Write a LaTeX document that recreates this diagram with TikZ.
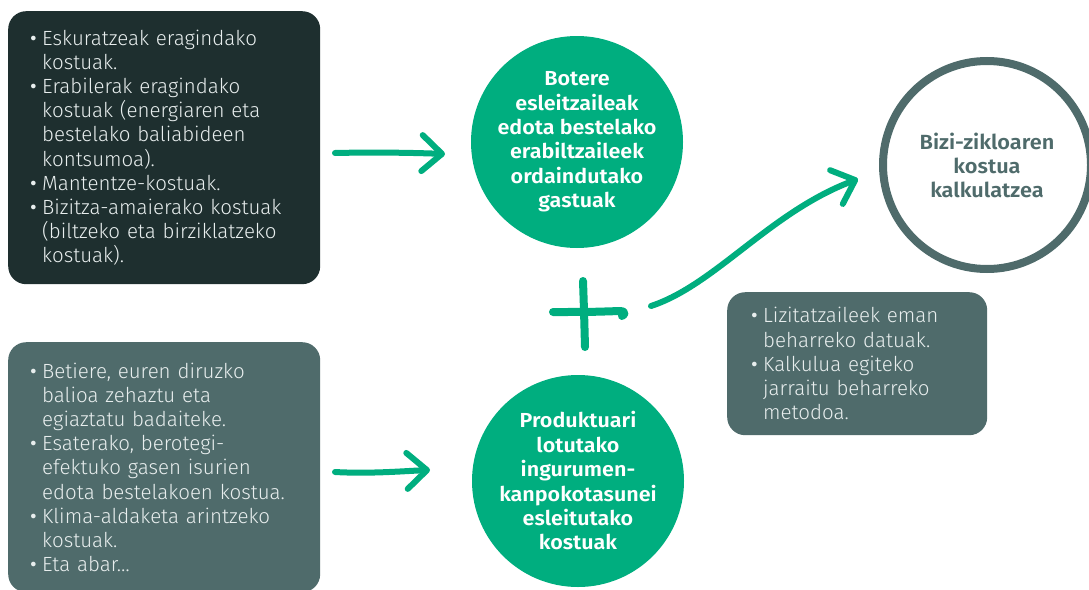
\documentclass[tikz,border=0pt]{standalone}
\usepackage{fontspec}
\setmainfont{Fira Sans Light}
\newfontfamily\boldf{Fira Sans SemiBold}[FakeStretch=1.06]
\newfontfamily\bulf{Fira Sans}
\usetikzlibrary{arrows.meta}
\definecolor{grn}{HTML}{00AE7F}
\definecolor{dk}{HTML}{1E2F2F}
\definecolor{gr}{HTML}{4F6B6B}
\definecolor{lt}{HTML}{E8EEEE}
\newcommand\bul{\makebox[12pt][l]{{\bulf\textbullet}}}
\newcommand\hind{\hspace*{12pt}}
\begin{document}
\begin{tikzpicture}[x=1pt,y=-1pt,
  box/.style={rounded corners=18pt, anchor=north west, text=lt, align=left,
    font=\fontsize{20.5}{24.2}\selectfont, inner xsep=22pt, inner ysep=0pt},
  disc/.style={circle, fill=grn, minimum size=212pt, text=white, align=center,
    font=\boldf\fontsize{20.3}{24.4}\selectfont, inner sep=0pt},
  pen/.style={draw=grn, line width=6pt, line cap=round, line join=round},
  conn/.style={pen, -{Straight Barb[length=20pt,width=36pt,round]}}]
\useasboundingbox (0,0) rectangle (1089,589);

\node[box, fill=dk, minimum width=312pt, minimum height=273pt, text width=268pt] (b1) at (8,11) {%
\bul Eskuratzeak eragindako\\
\hind kostuak.\\
\bul Erabilerak eragindako\\
\hind kostuak (energiaren eta\\
\hind bestelako baliabideen\\
\hind kontsumoa).\\
\bul Mantentze-kostuak.\\
\bul Bizitza-amaierako kostuak\\
\hind (biltzeko eta birziklatzeko\\
\hind kostuak).};

\node[box, fill=gr, minimum width=312pt, minimum height=250pt, text width=268pt] (b2) at (8,342) {%
\bul Betiere, euren diruzko\\
\hind balioa zehaztu eta\\
\hind egiaztatu badaiteke.\\
\bul Esaterako, berotegi-\\
\hind efektuko gasen isurien\\
\hind edota bestelakoen kostua.\\
\bul Klima-aldaketa arintzeko\\
\hind kostuak.\\
\bul Eta abar\dots};

\node[box, fill=gr, minimum width=260pt, minimum height=143pt, text width=212pt, inner xsep=24pt] (b3) at (727,292) {%
\bul Lizitatzaileek eman\\
\hind beharreko datuak.\\
\bul Kalkulua egiteko\\
\hind jarraitu beharreko\\
\hind metodoa.};

\node[disc] (c1) at (577,142) {Botere\\esleitzaileak\\edota bestelako\\erabiltzaileek\\ordaindutako\\gastuak};
\node[disc] (c2) at (578,481) {Produktuari\\lotutako\\ingurumen-\\kanpokotasunei\\esleitutako\\kostuak};
\node[circle, draw=gr, line width=8pt, minimum size=208pt, text=gr, align=center,
  font=\boldf\fontsize{20.5}{24}\selectfont] (c3) at (987,165) {Bizi-zikloaren\\kostua\\kalkulatzea};

% arrows
\coordinate (a1s) at (335,153);
\coordinate (a1e) at (445,154);
\draw[conn] (a1s) .. controls (380,152) and (420,153) .. (a1e);
\coordinate (a2s) at (335,472);
\coordinate (a2e) at (430,470);
\draw[conn] (a2s) .. controls (370,474) and (405,471) .. (a2e);

% plus sign
\draw[pen, line width=8pt] (583,281) .. controls (584,310) .. (585,347);
\draw[pen, line width=8pt] (553,312) .. controls (590,312) .. (620,311)
  .. controls (625,311) and (626,314) .. (622,316);

\coordinate (a3s) at (651,306);
\coordinate (a3e) at (858,179);
\draw[conn] (a3s) .. controls (715,285) and (770,212) .. (a3e);
\end{tikzpicture}
\end{document}
